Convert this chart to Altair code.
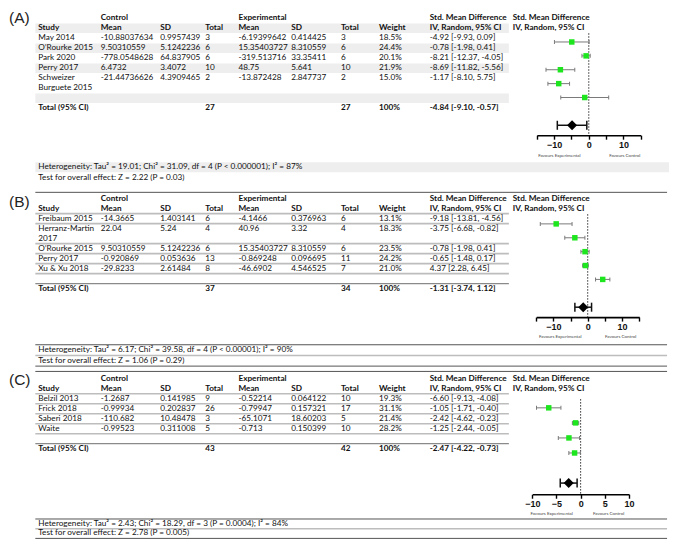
import altair as alt
import pandas as pd

# ======================= DATA =======================
# Panel A
A_study = ["May 2014", "O’Rourke 2015", "Park 2020", "Perry 2017", "Schweizer\nBurguete 2015"]
A_c_mean = ["-10.88037634", "9.50310559", "-778.0548628", "6.4732", "-21.44736626"]
A_c_sd = ["0.9957439", "5.1242236", "64.837905", "3.4072", "4.3909465"]
A_c_n = ["3", "6", "6", "10", "2"]
A_e_mean = ["-6.19399642", "15.35403727", "-319.513716", "48.75", "-13.872428"]
A_e_sd = ["0.414425", "8.310559", "33.35411", "5.641", "2.847737"]
A_e_n = ["3", "6", "6", "10", "2"]
A_weight = ["18.5%", "24.4%", "20.1%", "21.9%", "15.0%"]
A_smd = [-4.92, -0.78, -8.21, -8.69, -1.17]
A_lo = [-9.93, -1.98, -12.37, -11.82, -8.10]
A_hi = [0.09, 0.41, -4.05, -5.56, 5.75]
A_totals = ["27", "27", "100%"]
A_pooled = [-4.84, -9.10, -0.57]
A_het = "Heterogeneity: Tau² = 19.01; Chi² = 31.09, df = 4 (P < 0.000001); I² = 87%"
A_test = "Test for overall effect: Z = 2.22 (P = 0.03)"

# Panel B
B_study = ["Freibaum 2015", "Herranz-Martin\n2017", "O’Rourke 2015", "Perry 2017", "Xu & Xu 2018"]
B_c_mean = ["-14.3665", "22.04", "9.50310559", "-0.920869", "-29.8233"]
B_c_sd = ["1.403141", "5.24", "5.1242236", "0.053636", "2.61484"]
B_c_n = ["6", "4", "6", "13", "8"]
B_e_mean = ["-4.1466", "40.96", "15.35403727", "-0.869248", "-46.6902"]
B_e_sd = ["0.376963", "3.32", "8.310559", "0.096695", "4.546525"]
B_e_n = ["6", "4", "6", "11", "7"]
B_weight = ["13.1%", "18.3%", "23.5%", "24.2%", "21.0%"]
B_smd = [-9.18, -3.75, -0.78, -0.65, 4.37]
B_lo = [-13.81, -6.68, -1.98, -1.48, 2.28]
B_hi = [-4.56, -0.82, 0.41, 0.17, 6.45]
B_totals = ["37", "34", "100%"]
B_pooled = [-1.31, -3.74, 1.12]
B_het = "Heterogeneity: Tau² = 6.17; Chi² = 39.58, df = 4 (P < 0.00001); I² = 90%"
B_test = "Test for overall effect: Z = 1.06 (P = 0.29)"

# Panel C
C_study = ["Belzil 2013", "Frick 2018", "Saberi 2018", "Waite"]
C_c_mean = ["-1.2687", "-0.99934", "-110.682", "-0.99523"]
C_c_sd = ["0.141985", "0.202837", "10.48478", "0.311008"]
C_c_n = ["9", "26", "3", "5"]
C_e_mean = ["-0.52214", "-0.79947", "-65.1071", "-0.713"]
C_e_sd = ["0.064122", "0.157321", "18.60203", "0.150399"]
C_e_n = ["10", "17", "5", "10"]
C_weight = ["19.3%", "31.1%", "21.4%", "28.2%"]
C_smd = [-6.60, -1.05, -2.42, -1.25]
C_lo = [-9.13, -1.71, -4.62, -2.44]
C_hi = [-4.08, -0.40, -0.23, -0.05]
C_totals = ["43", "42", "100%"]
C_pooled = [-2.47, -4.22, -0.73]
C_het = "Heterogeneity: Tau² = 2.43; Chi² = 18.29, df = 3 (P = 0.0004); I² = 84%"
C_test = "Test for overall effect: Z = 2.78 (P = 0.005)"

HEADER_TOP = ["Control", "Experimental", "Std. Mean Difference", "Std. Mean Difference"]
HEADER_COLS = ["Study", "Mean", "SD", "Total", "Mean", "SD", "Total", "Weight",
               "IV, Random, 95% CI", "IV, Random, 95% CI"]
FAVOURS = ["Favours Experimental", "Favours Control"]

# ======================= LAYOUT =======================
REF_W, REF_H = 677, 548
W, H = 661, 532
SX, SY = W / REF_W, H / REF_H
FONT = "Lato"
INK = "#111111"
FS = 8.2

COL_KEYS = ["study", "c_mean", "c_sd", "c_n", "e_mean", "e_sd", "e_n", "weight", "ci", "plot"]
COL_X = dict(study=31, c_mean=95, c_sd=156, c_n=202, e_mean=236, e_sd=290, e_n=341,
             weight=380, ci=432, plot=517)
T_LEFT, T_RIGHT, FULL_RIGHT = 28, 513, 675

LAY = {
    "A": dict(top=0, height=184, label_y=10, head1_y=10.5, row_h=10.3, style="shade",
              fy0=35, fstep=14.3, zero_top=26, axis_y=131, fav_y=152,
              fdom=[-15, 15], fx=[541.7, 648], fticks=[-15, -10, -5, 0, 5, 10, 15], fevery=10,
              fav_x=[-8.5, 10.4], het_y=164, test_y=175),
    "B": dict(top=184, height=187, top_line=189.5, label_y=199, head1_y=196, row_h=10.3, style="lines",
              fy0=222, fstep=14.3, zero_top=212, axis_y=318, fav_y=339,
              fdom=[-15, 15], fx=[541, 646.5], fticks=[-15, -10, -5, 0, 5, 10, 15], fevery=10,
              fav_x=[-8.0, 9.6], het_y=352, test_y=363),
    "C": dict(top=371, height=177, top_line=373.5, label_y=382, head1_y=381, row_h=10.3, style="lines",
              fy0=411, fstep=15.5, zero_top=402, axis_y=500, fav_y=520,
              fdom=[-10, 10], fx=[537, 636], fticks=[-10, -5, 0, 5, 10], fevery=5,
              fav_x=[-6.0, 5.8], het_y=531, test_y=540),
}


def fmt_ci(e, lo, hi):
    return f"{e:.2f} [{lo:.2f}, {hi:.2f}]"


def make_panel(letter, d, L):
    top, ph, rh = L["top"], L["height"], L["row_h"]
    y0 = L["head1_y"] - top

    def sy(s):
        return y0 + s * rh

    bold, normal = [], []
    for k, t in zip(["c_mean", "e_mean", "ci", "plot"], HEADER_TOP):
        bold.append(dict(x=COL_X[k], y=sy(0), t=t))
    for k, t in zip(COL_KEYS, HEADER_COLS):
        bold.append(dict(x=COL_X[k], y=sy(1), t=t))

    slot = 2
    row_spans = [(1, 1)]
    for i, name in enumerate(d["study"]):
        lines = name.split("\n")
        for j, ln in enumerate(lines):
            normal.append(dict(x=COL_X["study"], y=sy(slot + j), t=ln))
        vals = [d["c_mean"][i], d["c_sd"][i], d["c_n"][i], d["e_mean"][i], d["e_sd"][i],
                d["e_n"][i], d["weight"][i], fmt_ci(d["smd"][i], d["lo"][i], d["hi"][i])]
        for k, v in zip(COL_KEYS[1:9], vals):
            normal.append(dict(x=COL_X[k], y=sy(slot), t=v))
        row_spans.append((slot, len(lines)))
        slot += len(lines)
    blank_slot = slot
    total_slot = slot + 1
    row_spans.append((blank_slot, 1))
    bold.append(dict(x=COL_X["study"], y=sy(total_slot), t="Total (95% CI)"))
    bold.append(dict(x=COL_X["c_n"], y=sy(total_slot), t=d["totals"][0]))
    bold.append(dict(x=COL_X["e_n"], y=sy(total_slot), t=d["totals"][1]))
    bold.append(dict(x=COL_X["weight"], y=sy(total_slot), t=d["totals"][2]))
    bold.append(dict(x=COL_X["ci"], y=sy(total_slot), t=fmt_ci(*d["pooled"])))

    het_y, test_y = L["het_y"] - top, L["test_y"] - top
    normal.append(dict(x=COL_X["study"], y=het_y, t=d["het"]))
    normal.append(dict(x=COL_X["study"], y=test_y, t=d["test"]))

    XS = alt.Scale(domain=[0, REF_W], nice=False, zero=False)
    YS = alt.Scale(domain=[ph, 0], nice=False, zero=False)

    def text_layer(rows, weight, size=FS, font=FONT, color=INK):
        return alt.Chart(pd.DataFrame(rows)).mark_text(
            align="left", baseline="middle", font=font, fontSize=size,
            fontWeight=weight, color=color).encode(
            x=alt.X("x:Q", scale=XS, axis=None),
            y=alt.Y("y:Q", scale=YS, axis=None),
            text="t:N")

    layers = []
    if L["style"] == "shade":
        bands = []
        for idx, (s, n) in enumerate(row_spans):
            if idx % 2 == 0:
                bands.append(dict(x=T_LEFT, x2=T_RIGHT, y=sy(s - 0.47), y2=sy(s + n - 1 + 0.47)))
        bands.append(dict(x=T_LEFT, x2=REF_W, y=het_y - 5.2, y2=het_y + 5.2))
        layers.append(alt.Chart(pd.DataFrame(bands)).mark_rect(color="#eeeeee").encode(
            x=alt.X("x:Q", scale=XS, axis=None), x2="x2:Q",
            y=alt.Y("y:Q", scale=YS, axis=None), y2="y2:Q"))
    else:
        rl = [dict(x=T_LEFT, x2=FULL_RIGHT, y=L["top_line"] - top, c="#555555", w=1.0)]
        rl.append(dict(x=T_LEFT, x2=T_RIGHT, y=sy(1.5), c="#bdbdbd", w=1.6))
        for s, n in row_spans[1:-1]:
            rl.append(dict(x=T_LEFT, x2=T_RIGHT, y=sy(s + n - 0.5), c="#bdbdbd", w=1.6))
        rl.append(dict(x=T_LEFT, x2=T_RIGHT, y=sy(total_slot - 0.5), c="#8a8a8a", w=1.2))
        rl.append(dict(x=T_LEFT, x2=FULL_RIGHT, y=het_y - 5.5, c="#555555", w=1.0))
        rl.append(dict(x=T_LEFT, x2=FULL_RIGHT, y=(het_y + test_y) / 2, c="#bdbdbd", w=1.6))
        rl.append(dict(x=T_LEFT, x2=FULL_RIGHT, y=test_y + 5.5, c="#555555", w=1.0))
        layers.append(alt.Chart(pd.DataFrame(rl)).mark_rule().encode(
            x=alt.X("x:Q", scale=XS, axis=None), x2="x2:Q",
            y=alt.Y("y:Q", scale=YS, axis=None),
            color=alt.Color("c:N", scale=None),
            size=alt.Size("w:Q", scale=None)))
    layers.append(text_layer(bold, "bold"))
    layers.append(text_layer(normal, "normal"))
    layers.append(text_layer([dict(x=1, y=L["label_y"] - top, t=f"({letter})")], "normal",
                             size=15.5, font="Liberation Sans", color="#222222"))
    table = alt.layer(*layers)

    # ---------------- forest plot ----------------
    n = len(d["smd"])
    fy0, fst = L["fy0"], L["fstep"]
    FX = alt.Scale(domain=L["fdom"], range=[L["fx"][0] * SX, L["fx"][1] * SX], nice=False, zero=False)
    FY = alt.Scale(domain=[0, 1], range=[(fy0 - top) * SY, (fy0 + fst - top) * SY], nice=False, zero=False)
    every = L["fevery"]
    AX = alt.Axis(values=L["fticks"], labelExpr=f"datum.value % {every} == 0 ? datum.label : ''",
                  title=None, grid=False, domainColor="#000000", domainWidth=1.6,
                  tickColor="#000000", tickWidth=1.4, tickSize=4, labelFont="Liberation Sans",
                  labelFontSize=9, labelFontWeight="bold", labelColor="#111111", labelPadding=1,
                  labelOverlap=False, labelFlush=False,
                  offset=(L["axis_y"] - top - ph) * SY)

    studies = pd.DataFrame(dict(i=list(range(n)), est=d["smd"], lo=d["lo"], hi=d["hi"]))
    pooled = pd.DataFrame(dict(i=[n + 1], est=[d["pooled"][0]], lo=[d["pooled"][1]], hi=[d["pooled"][2]]))
    zero = pd.DataFrame(dict(x=[0], y=[(L["zero_top"] - fy0) / fst], y2=[(L["axis_y"] - fy0) / fst]))
    fav = pd.DataFrame(dict(x=L["fav_x"], y=[(L["fav_y"] - fy0) / fst] * 2, t=FAVOURS))

    def fx(field):
        return alt.X(field, scale=FX, axis=AX)

    def fyy(field):
        return alt.Y(field, scale=FY, axis=None)

    flayers = [
        alt.Chart(zero).mark_rule(color="#333333", strokeWidth=1, strokeDash=[1.5, 1.5]).encode(
            x=fx("x:Q"), y=fyy("y:Q"), y2="y2:Q"),
        alt.Chart(studies).mark_rule(color="#7a7a7a", strokeWidth=1).encode(
            x=fx("lo:Q"), x2="hi:Q", y=fyy("i:Q")),
        alt.Chart(studies).mark_tick(orient="vertical", size=4, thickness=1, color="#7a7a7a", opacity=1).encode(
            x=fx("lo:Q"), y=fyy("i:Q")),
        alt.Chart(studies).mark_tick(orient="vertical", size=4, thickness=1, color="#7a7a7a", opacity=1).encode(
            x=fx("hi:Q"), y=fyy("i:Q")),
        alt.Chart(studies).mark_square(size=30, color="#1ee61e", opacity=1, filled=True).encode(
            x=fx("est:Q"), y=fyy("i:Q")),
        alt.Chart(pooled).mark_rule(color="#111111", strokeWidth=1.5).encode(
            x=fx("lo:Q"), x2="hi:Q", y=fyy("i:Q")),
        alt.Chart(pooled).mark_tick(orient="vertical", size=9, thickness=1.5, color="#111111", opacity=1).encode(
            x=fx("lo:Q"), y=fyy("i:Q")),
        alt.Chart(pooled).mark_tick(orient="vertical", size=9, thickness=1.5, color="#111111", opacity=1).encode(
            x=fx("hi:Q"), y=fyy("i:Q")),
        alt.Chart(pooled).mark_point(shape="diamond", size=100, filled=True, color="#000000", opacity=1).encode(
            x=fx("est:Q"), y=fyy("i:Q")),
        alt.Chart(fav).mark_text(fontSize=4.5, font=FONT, color="#444444").encode(
            x=fx("x:Q"), y=fyy("y:Q"), text="t:N"),
    ]
    forest = alt.layer(*flayers)

    return alt.layer(table, forest).resolve_scale(x="independent", y="independent").properties(
        width=W, height=ph * SY)


def pack(p):
    g = globals()
    return dict(study=g[p + "_study"], c_mean=g[p + "_c_mean"], c_sd=g[p + "_c_sd"], c_n=g[p + "_c_n"],
                e_mean=g[p + "_e_mean"], e_sd=g[p + "_e_sd"], e_n=g[p + "_e_n"], weight=g[p + "_weight"],
                smd=g[p + "_smd"], lo=g[p + "_lo"], hi=g[p + "_hi"], totals=g[p + "_totals"],
                pooled=g[p + "_pooled"], het=g[p + "_het"], test=g[p + "_test"])


chart = alt.vconcat(*[make_panel(p, pack(p), LAY[p]) for p in ["A", "B", "C"]], spacing=0).properties(
    padding=0, background="white").configure_view(stroke=None)

chart.save("out.html", embed_options={"renderer": "svg", "actions": False})
